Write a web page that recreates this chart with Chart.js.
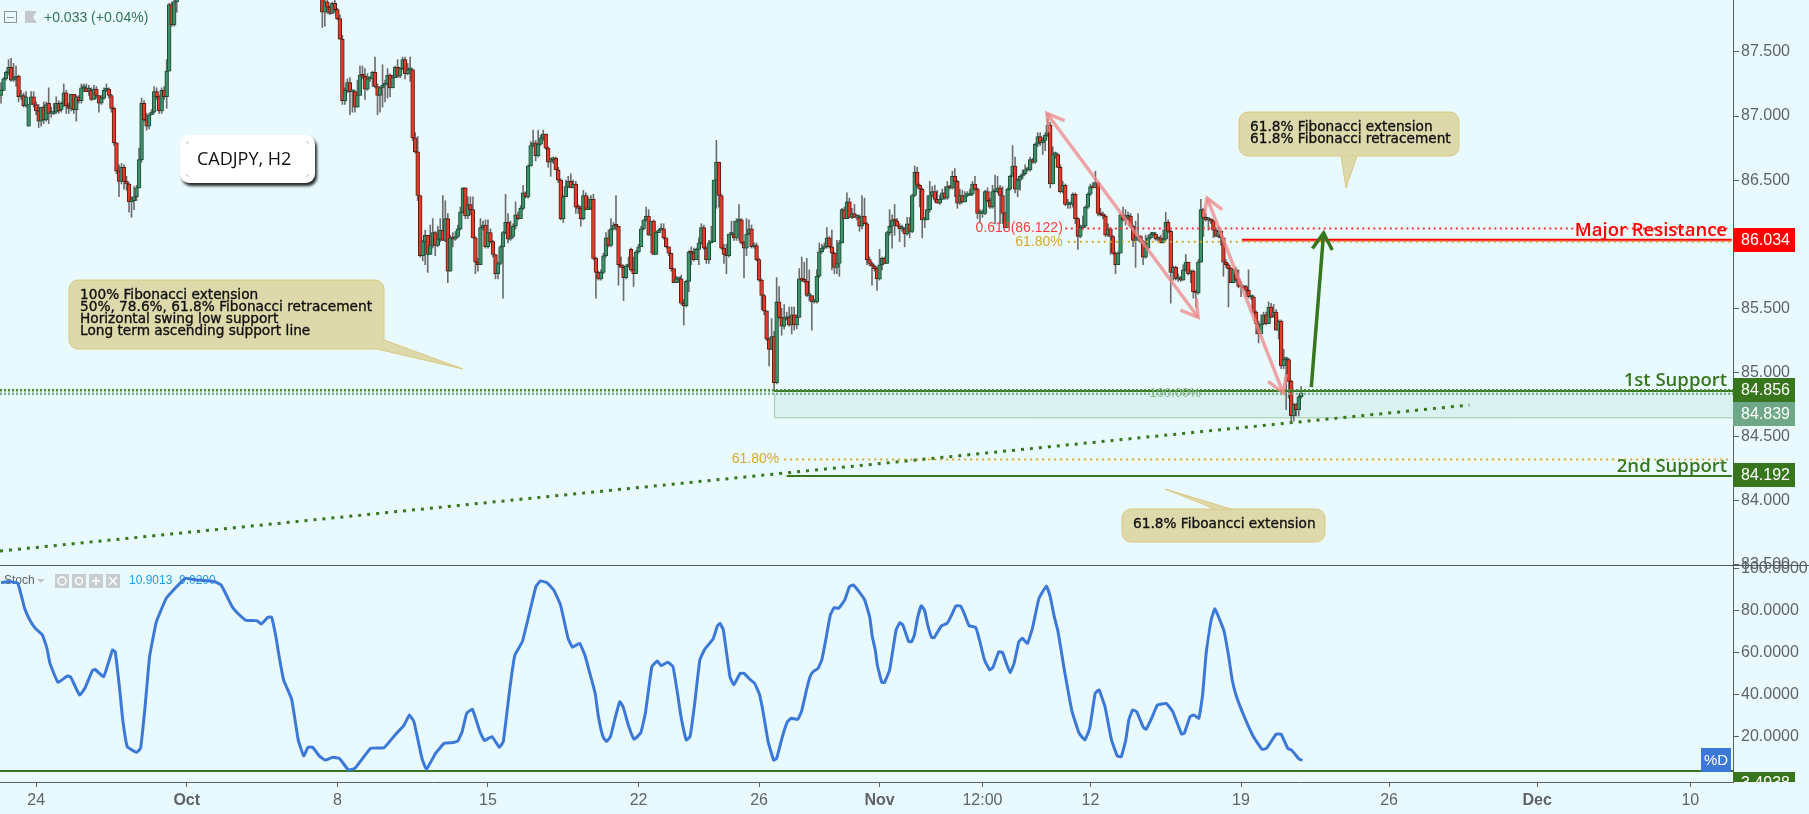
<!DOCTYPE html>
<html>
<head>
<meta charset="utf-8">
<title>CADJPY, H2</title>
<script src="https://cdn.jsdelivr.net/npm/chart.js@4/dist/chart.umd.js"></script>
<style>
	html, body { margin: 0; padding: 0; background: #e9faff; overflow: hidden; }
	#page { position: relative; width: 1809px; height: 814px; }
	#mainChart { position: absolute; left: 0; top: 0; }
	#stochChart { position: absolute; left: 0; top: 545px; }
	#paneLine { position: absolute; left: 0; top: 565px; width: 1809px; height: 1px; background: #50565a; }
</style>
</head>
<body>
<div id="page">
	<canvas id="mainChart" width="1809" height="590"></canvas>
	<canvas id="stochChart" width="1809" height="269"></canvas>
	<div id="paneLine"></div>
</div>
<script>
// candles, one per H2 bar. The nulls are the bars that run off the top of the picture
const opens = [
	87.16,87.20,87.29,87.34,87.38,87.28,87.29,87.31,87.15,87.16,
	87.08,86.92,87.09,87.15,87.09,87.04,86.96,87.07,86.97,87.10,
	87.02,87.02,87.03,87.10,87.05,87.10,87.18,87.08,87.06,87.17,
	87.05,87.15,87.12,87.22,87.22,87.20,87.20,87.13,87.21,87.16,
	87.10,87.14,87.20,87.21,87.16,87.06,86.79,86.57,86.49,86.60,
	86.49,86.47,86.33,86.34,86.37,86.44,86.66,87.10,86.97,86.92,
	87.01,87.03,87.19,87.15,87.04,87.20,87.15,87.35,87.87,87.71,
	87.89,null,null,null,null,null,null,null,null,null,
	null,null,null,null,null,null,null,null,null,null,
	null,null,null,null,null,null,null,null,null,null,
	null,null,null,null,null,null,null,null,null,null,
	null,null,null,null,null,null,null,null,null,null,
	null,null,null,null,null,null,null,null,87.91,87.81,
	87.89,87.85,87.80,87.88,87.83,87.76,87.60,87.12,87.20,87.26,
	87.19,87.19,87.07,87.16,87.32,87.31,87.21,87.29,87.29,87.34,
	87.23,87.16,87.22,87.24,87.25,87.32,87.22,87.30,87.38,87.31,
	87.37,87.44,87.33,87.36,87.36,86.83,86.72,86.38,85.91,86.02,
	86.07,85.92,85.99,86.09,85.99,86.04,86.11,86.03,86.20,85.79,
	86.05,86.04,86.06,86.12,86.25,86.44,86.22,86.31,86.27,86.05,
	85.86,85.84,86.13,86.15,85.98,86.09,86.02,85.92,85.77,85.85,
	85.98,86.09,86.17,86.04,86.06,86.14,86.23,86.20,86.28,86.40,
	86.37,86.61,86.77,86.79,86.69,86.78,86.83,86.86,86.75,86.64,
	86.66,86.67,86.58,86.50,86.20,86.37,86.45,86.49,86.44,86.47,
	86.29,86.28,86.20,86.38,86.27,86.28,86.35,85.89,85.78,85.73,
	85.78,85.91,86.05,85.99,86.12,86.15,86.14,85.84,85.82,85.74,
	85.83,85.96,85.80,85.77,85.94,85.98,86.12,86.19,86.22,86.07,
	86.18,85.92,86.09,86.11,86.12,86.05,85.98,85.93,85.81,85.70,
	85.73,85.73,85.54,85.52,85.71,85.94,85.93,85.88,85.96,86.01,
	86.13,85.97,85.88,86.01,86.02,86.50,86.64,86.38,85.97,85.92,
	85.91,86.08,86.08,86.05,86.18,86.19,86.01,85.97,86.08,86.12,
	85.98,85.99,85.88,85.72,85.60,85.48,85.26,85.18,85.28,84.92,
	85.55,85.43,85.36,85.42,85.43,85.37,85.45,85.37,85.43,85.73,
	85.72,85.71,85.60,85.60,85.55,85.55,85.75,85.94,85.97,85.98,
	86.05,85.98,85.93,85.82,85.85,86.01,86.27,86.20,86.33,86.21,
	86.24,86.21,86.21,86.14,86.22,86.16,85.88,85.85,85.83,85.81,
	85.73,85.84,85.89,85.85,86.09,86.14,86.19,86.18,86.14,86.12,
	86.12,86.08,86.16,86.10,86.38,86.56,86.46,86.43,86.19,86.19,
	86.27,86.38,86.41,86.35,86.32,86.35,86.40,86.36,86.45,86.44,
	86.53,86.49,86.32,86.38,86.33,86.38,86.38,86.39,86.47,86.43,
	86.24,86.24,86.24,86.41,86.34,86.29,86.41,86.41,86.44,86.38,
	86.24,86.13,86.43,86.53,86.61,86.43,86.50,86.53,86.55,86.58,
	86.58,86.66,86.64,86.78,86.84,86.79,86.81,86.85,86.93,86.47,
	86.70,86.70,86.60,86.41,86.46,86.31,86.31,86.31,86.39,86.20,
	86.06,86.13,86.14,86.29,86.39,86.45,86.44,86.48,86.24,86.23,
	86.22,86.07,86.12,86.06,85.93,85.84,85.93,86.23,86.19,86.21,
	86.22,86.14,86.03,86.05,86.06,86.02,85.90,85.97,86.05,86.08,
	86.08,86.04,86.05,86.01,86.04,86.17,86.10,85.78,85.82,85.73,
	85.73,85.72,85.80,85.86,85.77,85.79,85.63,85.62,85.86,86.27,
	86.21,86.19,86.19,86.18,86.11,86.06,86.10,86.05,85.86,85.84,
	85.81,85.70,85.80,85.73,85.67,85.67,85.67,85.64,85.59,85.59,
	85.47,85.38,85.30,85.38,85.45,85.38,85.51,85.44,85.47,85.33,
	85.40,85.05,85.10,85.10,84.93,84.66,84.75,84.71,84.81
];
const closes = [
	87.20,87.29,87.34,87.38,87.28,87.29,87.31,87.15,87.16,87.08,
	87.15,87.09,87.15,87.09,87.04,86.96,87.07,86.97,87.09,87.02,
	87.02,87.03,87.10,87.04,87.10,87.18,87.08,87.06,87.17,87.05,
	87.15,87.12,87.22,87.22,87.19,87.20,87.13,87.21,87.16,87.10,
	87.14,87.20,87.21,87.16,87.06,86.79,86.57,86.49,86.60,86.49,
	86.47,86.33,86.34,86.37,86.44,86.66,87.10,86.97,86.92,87.01,
	87.03,87.19,87.15,87.04,87.20,87.15,87.35,87.87,87.71,87.89,
	87.92,null,null,null,null,null,null,null,null,null,
	null,null,null,null,null,null,null,null,null,null,
	null,null,null,null,null,null,null,null,null,null,
	null,null,null,null,null,null,null,null,null,null,
	null,null,null,null,null,null,null,null,null,null,
	null,null,null,null,null,null,null,null,87.81,87.89,
	87.85,87.80,87.88,87.83,87.76,87.60,87.12,87.20,87.26,87.19,
	87.19,87.07,87.16,87.32,87.31,87.21,87.29,87.29,87.34,87.23,
	87.16,87.22,87.24,87.25,87.32,87.22,87.30,87.38,87.31,87.37,
	87.44,87.33,87.36,87.36,86.83,86.72,86.38,85.91,86.02,86.07,
	85.92,85.99,86.09,85.99,86.04,86.11,86.03,86.20,85.79,86.05,
	86.04,86.06,86.12,86.25,86.44,86.22,86.31,86.27,86.05,85.86,
	85.84,86.13,86.15,85.98,86.09,86.02,85.92,85.77,85.85,85.98,
	86.09,86.17,86.04,86.06,86.14,86.23,86.20,86.28,86.40,86.37,
	86.61,86.77,86.79,86.69,86.78,86.83,86.86,86.75,86.64,86.66,
	86.67,86.58,86.50,86.20,86.37,86.45,86.49,86.44,86.47,86.29,
	86.28,86.20,86.38,86.27,86.28,86.35,85.89,85.78,85.73,85.78,
	85.91,86.05,85.99,86.12,86.15,86.14,85.84,85.82,85.74,85.83,
	85.83,85.80,85.77,85.94,85.98,86.12,86.19,86.22,86.07,86.18,
	85.92,86.09,86.11,86.12,86.05,85.98,85.93,85.81,85.70,85.73,
	85.73,85.54,85.52,85.71,85.94,85.93,85.88,85.96,86.01,86.13,
	85.97,85.88,86.01,86.02,86.50,86.64,86.38,85.97,85.92,85.91,
	86.08,86.08,86.05,86.18,86.19,86.01,85.97,86.08,86.12,85.98,
	85.99,85.88,85.72,85.60,85.48,85.26,85.18,85.28,84.92,85.55,
	85.43,85.36,85.42,85.43,85.37,85.45,85.37,85.43,85.73,85.72,
	85.71,85.60,85.60,85.55,85.55,85.75,85.94,85.97,85.98,86.05,
	85.98,85.93,85.82,85.85,86.01,86.27,86.20,86.33,86.21,86.24,
	86.21,86.21,86.14,86.22,86.16,85.88,85.85,85.83,85.81,85.73,
	85.84,85.89,85.85,86.09,86.14,86.19,86.18,86.14,86.12,86.12,
	86.08,86.16,86.10,86.38,86.56,86.46,86.43,86.19,86.19,86.27,
	86.38,86.41,86.35,86.32,86.35,86.40,86.36,86.45,86.44,86.53,
	86.49,86.32,86.38,86.33,86.38,86.38,86.39,86.47,86.43,86.24,
	86.24,86.24,86.41,86.34,86.29,86.41,86.41,86.44,86.38,86.24,
	86.13,86.43,86.53,86.61,86.43,86.50,86.53,86.55,86.58,86.58,
	86.66,86.64,86.78,86.84,86.79,86.81,86.85,86.93,86.47,86.70,
	86.70,86.60,86.41,86.46,86.31,86.31,86.31,86.39,86.20,86.06,
	86.13,86.14,86.29,86.39,86.45,86.44,86.48,86.24,86.23,86.22,
	86.07,86.12,86.06,85.93,85.84,85.93,86.23,86.19,86.21,86.22,
	86.14,86.03,86.05,86.05,86.02,85.90,85.97,86.05,86.08,86.08,
	86.04,86.05,86.01,86.04,86.17,86.10,85.78,85.82,85.73,85.73,
	85.72,85.80,85.86,85.77,85.79,85.63,85.62,85.86,86.27,86.21,
	86.19,86.19,86.18,86.11,86.06,86.10,86.05,85.86,85.84,85.81,
	85.70,85.80,85.72,85.67,85.67,85.66,85.64,85.59,85.59,85.47,
	85.38,85.30,85.38,85.45,85.38,85.51,85.43,85.47,85.33,85.40,
	85.05,85.10,85.10,84.93,84.66,84.75,84.71,84.81,84.84
];
const highs = [
	87.26,87.30,87.35,87.44,87.45,87.41,87.39,87.32,87.20,87.18,
	87.19,87.09,87.19,87.19,87.11,87.09,87.07,87.11,87.11,87.22,
	87.07,87.10,87.15,87.12,87.11,87.25,87.20,87.10,87.17,87.17,
	87.16,87.16,87.25,87.25,87.25,87.24,87.22,87.24,87.23,87.16,
	87.16,87.22,87.25,87.22,87.17,87.07,86.79,86.62,86.63,86.62,
	86.53,86.48,86.37,86.45,86.46,86.75,87.14,87.12,87.02,87.02,
	87.05,87.23,87.22,87.16,87.22,87.23,87.44,87.88,87.89,87.93,
	87.98,null,null,null,null,null,null,null,null,null,
	null,null,null,null,null,null,null,null,null,null,
	null,null,null,null,null,null,null,null,null,null,
	null,null,null,null,null,null,null,null,null,null,
	null,null,null,null,null,null,null,null,null,null,
	null,null,null,null,null,null,null,null,87.93,87.92,
	87.92,87.86,87.89,87.92,87.84,87.79,87.63,87.22,87.29,87.30,
	87.20,87.20,87.28,87.39,87.39,87.37,87.33,87.31,87.35,87.46,
	87.25,87.23,87.40,87.28,87.37,87.33,87.32,87.39,87.44,87.38,
	87.46,87.46,87.41,87.46,87.37,86.87,86.84,86.38,86.03,86.11,
	86.07,86.15,86.20,86.10,86.14,86.20,86.38,86.34,86.24,86.07,
	86.09,86.10,86.15,86.29,86.44,86.44,86.37,86.37,86.37,86.06,
	85.89,86.20,86.18,86.19,86.19,86.12,86.03,85.92,85.86,85.99,
	86.10,86.39,86.24,86.18,86.16,86.33,86.25,86.30,86.46,86.41,
	86.62,86.80,86.89,86.81,86.89,86.85,86.89,86.86,86.76,86.67,
	86.68,86.68,86.60,86.51,86.38,86.50,86.53,86.55,86.50,86.49,
	86.31,86.30,86.42,86.40,86.37,86.38,86.39,85.90,85.79,85.80,
	85.93,86.09,86.11,86.20,86.17,86.38,86.14,85.90,85.84,85.84,
	85.90,85.97,85.90,85.95,86.00,86.14,86.19,86.29,86.27,86.18,
	86.19,86.10,86.12,86.16,86.16,86.05,85.98,85.93,85.81,85.75,
	85.74,85.76,85.57,85.72,85.95,85.98,85.97,85.97,86.05,86.16,
	86.15,85.98,86.03,86.14,86.50,86.81,86.64,86.39,86.00,86.00,
	86.08,86.18,86.18,86.20,86.31,86.20,86.02,86.20,86.19,86.15,
	86.01,86.01,85.89,85.73,85.61,85.48,85.27,85.42,85.32,85.74,
	85.67,85.50,85.53,85.47,85.51,85.51,85.51,85.45,85.81,85.90,
	85.86,85.89,85.80,85.60,85.57,85.80,86.01,86.00,86.01,86.13,
	86.06,86.11,85.94,86.03,86.03,86.28,86.29,86.40,86.36,86.28,
	86.31,86.23,86.23,86.38,86.36,86.17,85.90,85.86,85.84,85.82,
	85.96,85.90,85.90,86.10,86.27,86.23,86.31,86.20,86.16,86.15,
	86.13,86.21,86.21,86.39,86.61,86.60,86.47,86.44,86.21,86.38,
	86.49,86.45,86.46,86.42,86.38,86.43,86.45,86.49,86.46,86.57,
	86.59,86.50,86.43,86.42,86.41,86.41,86.43,86.49,86.53,86.44,
	86.27,86.27,86.42,86.44,86.36,86.46,86.54,86.53,86.46,86.45,
	86.25,86.44,86.54,86.77,86.68,86.51,86.54,86.58,86.62,86.60,
	86.68,86.67,86.79,86.87,86.87,86.83,86.87,86.98,86.95,86.76,
	86.72,86.71,86.62,86.49,86.47,86.35,86.33,86.40,86.40,86.21,
	86.15,86.22,86.30,86.40,86.47,86.48,86.57,86.48,86.28,86.25,
	86.23,86.16,86.13,86.07,85.94,85.94,86.24,86.29,86.27,86.25,
	86.24,86.15,86.18,86.24,86.07,86.03,86.07,86.07,86.09,86.09,
	86.09,86.06,86.07,86.11,86.25,86.19,86.11,85.83,85.83,85.77,
	85.75,85.84,85.92,85.86,85.80,85.80,85.64,85.88,86.35,86.28,
	86.24,86.21,86.20,86.19,86.13,86.14,86.11,86.05,85.88,85.85,
	85.82,85.81,85.82,85.80,85.71,85.68,85.68,85.80,85.60,85.60,
	85.48,85.40,85.45,85.47,85.47,85.55,85.54,85.53,85.49,85.41,
	85.41,85.18,85.12,85.11,84.94,84.76,84.76,84.82,84.89
];
const lows = [
	87.10,87.20,87.28,87.32,87.27,87.27,87.23,87.11,87.13,87.07,
	87.07,86.92,87.09,87.07,87.01,86.91,86.92,86.94,86.96,86.94,
	86.99,87.01,87.02,87.02,87.03,87.07,87.02,87.02,87.04,87.02,
	86.96,87.10,87.10,87.19,87.19,87.16,87.12,87.13,87.14,87.03,
	87.09,87.13,87.19,87.14,87.03,86.77,86.55,86.37,86.47,86.43,
	86.42,86.25,86.21,86.27,86.34,86.44,86.64,86.96,86.89,86.90,
	87.01,87.02,87.13,87.02,87.02,87.13,87.06,87.35,87.70,87.70,
	87.81,null,null,null,null,null,null,null,null,null,
	null,null,null,null,null,null,null,null,null,null,
	null,null,null,null,null,null,null,null,null,null,
	null,null,null,null,null,null,null,null,null,null,
	null,null,null,null,null,null,null,null,null,null,
	null,null,null,null,null,null,null,null,87.69,87.70,
	87.80,87.79,87.80,87.81,87.75,87.60,87.09,87.09,87.18,87.01,
	87.03,87.03,87.07,87.16,87.29,87.13,87.20,87.27,87.23,87.22,
	87.01,87.03,87.07,87.11,87.14,87.15,87.22,87.30,87.30,87.30,
	87.36,87.29,87.32,87.27,86.81,86.71,86.34,85.90,85.87,85.84,
	85.78,85.92,85.97,85.91,85.98,86.02,86.03,86.02,85.70,85.79,
	85.98,86.03,86.05,86.11,86.24,86.20,86.20,86.23,86.05,85.77,
	85.79,85.84,86.11,85.97,85.97,86.01,85.90,85.73,85.73,85.84,
	85.58,86.08,86.01,86.03,86.05,86.12,86.19,86.20,86.27,86.36,
	86.36,86.61,86.76,86.65,86.68,86.77,86.81,86.74,86.60,86.53,
	86.63,86.58,86.48,86.19,86.17,86.37,86.44,86.44,86.44,86.24,
	86.24,86.14,86.19,86.27,86.27,86.27,85.88,85.58,85.72,85.72,
	85.77,85.90,85.98,85.98,86.11,86.11,85.68,85.82,85.56,85.73,
	85.82,85.79,85.67,85.77,85.93,85.98,86.11,86.18,86.07,85.93,
	85.92,85.92,86.09,86.11,86.04,85.97,85.91,85.79,85.70,85.70,
	85.70,85.53,85.37,85.51,85.63,85.84,85.87,85.88,85.84,86.00,
	85.96,85.85,85.85,86.01,86.02,86.28,86.29,85.96,85.85,85.77,
	85.90,86.07,86.03,86.03,86.03,86.00,85.74,85.91,86.07,85.97,
	85.97,85.87,85.71,85.49,85.45,85.25,85.05,85.18,84.86,84.91,
	85.42,85.29,85.34,85.41,85.36,85.30,85.33,85.34,85.43,85.71,
	85.70,85.59,85.56,85.33,85.54,85.54,85.74,85.93,85.96,85.97,
	85.97,85.80,85.77,85.77,85.75,86.01,86.20,86.20,86.21,86.20,
	86.21,86.19,86.10,86.12,86.16,85.84,85.83,85.68,85.79,85.64,
	85.72,85.80,85.85,85.85,86.07,85.97,86.07,86.14,86.02,86.10,
	85.98,86.07,86.05,86.09,86.37,86.44,86.29,86.05,86.13,86.19,
	86.25,86.37,86.33,86.32,86.31,86.35,86.35,86.35,86.43,86.43,
	86.37,86.28,86.31,86.32,86.33,86.37,86.38,86.38,86.42,86.20,
	86.17,86.21,86.23,86.33,86.28,86.28,86.16,86.40,86.16,86.16,
	86.13,86.13,86.42,86.53,86.40,86.37,86.42,86.51,86.54,86.57,
	86.57,86.63,86.63,86.76,86.77,86.70,86.73,86.84,86.44,86.47,
	86.67,86.60,86.40,86.40,86.30,86.28,86.28,86.29,86.16,85.96,
	86.05,86.12,86.13,86.28,86.38,86.44,86.44,86.22,86.22,86.20,
	86.06,86.06,85.92,85.92,85.77,85.84,85.93,86.18,86.15,86.19,
	86.13,85.98,85.82,86.03,86.01,85.84,85.89,85.96,86.04,86.06,
	86.03,86.02,86.01,86.01,86.03,86.09,85.54,85.72,85.72,85.71,
	85.71,85.72,85.79,85.76,85.70,85.58,85.51,85.61,85.86,86.06,
	86.18,86.11,86.16,86.05,86.06,86.05,85.99,85.75,85.82,85.51,
	85.70,85.70,85.71,85.66,85.59,85.64,85.59,85.58,85.57,85.46,
	85.30,85.23,85.30,85.37,85.37,85.38,85.43,85.43,85.33,85.26,
	85.03,85.03,84.71,84.80,84.62,84.62,84.66,84.66,84.80
];

// %D line of the stochastic, read at its turning points
const stochBars = [
	0,3.2,6.7,9.4,11.7,13.8,16.5,18.3,19.5,22.7,26.3,27.7,31.3,33.4,36.4,37.5,40.9,44.4,45.5,47.3,
	48.5,50.3,53.9,55.6,57.4,59.2,61.9,65.8,68.1,73.4,77.9,85,87.7,92.1,93.9,97.4,101.9,103.7,106.3,107.8,
	109.5,110.8,112.6,115.8,118.4,120.6,122.3,124.1,126.8,129.1,132.1,134.8,138.4,141,147.3,152.6,157,160.6,162.7,164.5,
	167.7,169.5,173.1,176.6,179.6,182,183.7,185.5,187.8,190.8,192.6,195.6,198.5,200.1,202.8,204.7,207.7,211.3,213.1,214.9,
	217.5,220.2,222.9,225.9,227.7,230.5,232.6,234.4,236.7,238,239.8,241.2,242.8,244.8,246.5,247.8,249.9,252.2,254.9,256.7,
	259.3,261.5,262.9,265.6,267.7,269.5,270.9,273,274.5,276.2,278.4,280.3,282.3,283.8,285.4,286.4,287.7,288.9,290.4,291.9,
	294.5,296,298.3,300.2,302.1,303.7,305.6,307.8,309,311.3,313.3,314.8,317.4,318.9,320.9,322.3,323.5,325.5,327,328.8,
	330.4,331.9,333.7,336.1,338,339.5,341.8,344.1,346.1,347.1,348.3,349.1,350.9,352,354,356.6,358.1,359.3,361.6,362.8,
	363.9,365.1,366.6,367.9,369.2,370.8,371.8,374.6,376.9,378.4,380.4,382.2,383.7,385.7,388.3,389.8,391.8,393.9,395.2,397.5,
	399,400.5,402,403.6,405.5,406.9,408.9,410.9,413.5,416.5,418,419.6,421.1,423.4,426.7,429.5,431.8,433.7,435.9,437.4,
	439.8,442.4,444.7,446.3,448.1,449.3,450.8,452.4,455.1,456.2,458.1,460.7,464.2,466.8,470.3,471.4,473.7,475.2,477.2,478.7,
	480.1,482.1,483.6,487.1,489,490.5,492,495,498.9,502.4,504.2,508,510,512.6,514.1,517.2,518.5
];
const stochValues = [
	93.5,94,93.2,81.3,75.2,71.6,68.6,62.2,55.1,46,49,48.7,40,43.2,51.6,52.2,48.7,61.4,60.6,42.4,
	28.1,15.4,12.7,14.6,34.5,58.3,74.9,86,89.2,95.5,94.8,94,92.4,82,79.4,75.7,75.4,73.8,77,77,
	67.8,58.3,47.1,37.9,18.6,11,15.1,15.1,11,9,10.3,9.8,4.3,5.1,14.6,14.9,21,25.7,30.5,27.3,
	9.8,4.6,12.2,17,17.3,18.1,22.5,31.3,33.2,22.5,18.3,20.2,15.1,17.8,44,59,65.4,82.9,91.6,94.3,
	93.5,90,82.9,67,62.7,64.6,59,51.1,40.8,29.7,20.2,17.8,20.2,29.7,36.8,34.5,25.7,18.9,22.1,31.3,
	53.5,56.2,54,55.6,53.5,40.8,29.7,18.6,20.2,34.5,56.7,61.7,64.6,67,72.9,74.1,71.3,61.4,48.7,44.8,
	50.3,50.3,47.5,45.6,40.5,31.3,17.8,9,9.8,20.2,27.3,28.9,28.4,32.1,42.4,48.7,51.1,52.7,56.7,67.8,
	78.1,81.6,81.3,85.2,91.6,92.4,89.2,85.2,77,67.8,61.4,54.3,46,46,51.9,71,74.4,73.3,65.4,65.4,
	68.6,76.5,82.5,80.5,73.3,67.3,67.3,72.9,74.1,77.3,82.4,82.4,78.9,73,72.2,66.2,56.7,51.9,53.2,60.6,
	60.2,55.1,50.6,55.1,65.4,67,64.6,71.7,86,91.9,86.8,77.3,70.2,53.5,32.1,21.8,18.6,24.1,40.8,42.4,
	34.5,18.6,11,10.6,18.6,28.1,32.9,32.1,24.6,23.7,28.1,35.2,36,32.1,21.4,21.8,29.7,30.5,28.9,40,
	59.8,75.7,81,71,59,47.1,40,30.5,20.2,14.1,14.6,21.4,21.3,14.6,13.8,9.4,8.9
];
const stochLevel = 3.8;

// axes
const priceTicks = [84, 84.5, 85, 85.5, 86, 86.5, 87, 87.5, 83.5];
const stochTicks = [20, 40, 60, 80, 100];
const timeTickBars = [14, 74, 134, 194, 254, 302, 350, 391, 434, 494, 553, 612, 673];
const timeTickLabels = ["24", "Oct", "8", "15", "22", "26", "Nov", "12:00", "12", "19", "26", "Dec", "10"];
const monthLabels = ["Oct", "Nov", "Dec"];
const xMin = -0.4, xMax = 690;

// drawn levels and tools
const resistance = 86.034, fibRed = 86.122, fibGold = 86.02;
const support1 = 84.856, support1Low = 84.839, zoneBottom = 84.65;
const support2 = 84.192, support2Fib = 84.32;
const trendBars = [-0.4, 585], trendPrices = [83.607, 84.746];
const zoneStartBar = 308;
const pinkArrows = [[416.7, 87.02, 476.9, 85.43], [480.5, 86.36, 510.8, 84.84]];
const greenArrow = [522, 84.886, 526.9, 86.087];

const calloutA = ["100% Fibonacci extension", "50%, 78.6%, 61.8% Fibonacci retracement", "Horizontal swing low support", "Long term ascending support line"];
const calloutB = ["61.8% Fibonacci extension", "61.8% Fibonacci retracement"];
const calloutC = ["61.8% Fiboancci extension"];

const GREEN = "#38761d", RED = "#ff0000", GOLD = "#d6a92a", AXIS = "#5c6064", TEXT = "#5f6368";

function levelLine(x1, x2, y, color, width, dash) {
	return {
		type: "line",
		data: [{ x: x1, y: y }, { x: x2, y: y }],
		borderColor: color,
		borderWidth: width,
		borderDash: dash || [],
		pointRadius: 0,
		order: 2,
	};
}

// the axis would otherwise push the plot in by half a label
function trimAxis(scale) {
	scale.paddingTop = 0;
	scale.paddingBottom = 0;
	scale.paddingLeft = 0;
	scale.paddingRight = 0;
}

function drawArrow(ctx, x1, y1, x2, y2, color, width, bothEnds) {
	function head(tx, ty, fx, fy) {
		const a = Math.atan2(fy - ty, fx - tx);
		ctx.beginPath();
		ctx.moveTo(tx + 19 * Math.cos(a - 0.55), ty + 19 * Math.sin(a - 0.55));
		ctx.lineTo(tx, ty);
		ctx.lineTo(tx + 19 * Math.cos(a + 0.55), ty + 19 * Math.sin(a + 0.55));
		ctx.stroke();
	}
	ctx.save();
	ctx.strokeStyle = color;
	ctx.lineWidth = width;
	ctx.beginPath();
	ctx.moveTo(x1, y1);
	ctx.lineTo(x2, y2);
	ctx.stroke();
	head(x2, y2, x1, y1);
	if (bothEnds) head(x1, y1, x2, y2);
	ctx.restore();
}

// box with a pointed tail; the tail is three points going through the tip
function drawCallout(ctx, box, tail, lines, textX, firstY, lineGap) {
	ctx.save();
	ctx.fillStyle = "#ddd9ab";
	ctx.strokeStyle = "#dcc67e";
	ctx.lineWidth = 1;
	ctx.beginPath();
	ctx.roundRect(box[0], box[1], box[2] - box[0], box[3] - box[1], 9);
	ctx.fill();
	ctx.stroke();
	ctx.beginPath();
	ctx.moveTo(tail[0], tail[1]);
	ctx.lineTo(tail[2], tail[3]);
	ctx.lineTo(tail[4], tail[5]);
	ctx.closePath();
	ctx.fill();
	ctx.beginPath();
	ctx.moveTo(tail[0], tail[1]);
	ctx.lineTo(tail[2], tail[3]);
	ctx.lineTo(tail[4], tail[5]);
	ctx.stroke();
	ctx.fillStyle = "#111";
	ctx.strokeStyle = "#111";
	ctx.lineWidth = 0.35;
	ctx.font = '13.7px "DejaVu Sans"';
	ctx.textBaseline = "middle";
	ctx.textAlign = "left";
	lines.forEach((line, i) => {
		ctx.fillText(line, textX, firstY + i * lineGap);
		ctx.strokeText(line, textX, firstY + i * lineGap);
	});
	ctx.restore();
}

function badge(ctx, y1, y2, color, label) {
	ctx.fillStyle = color;
	ctx.fillRect(1733, y1, 62, y2 - y1);
	ctx.fillStyle = "#fff";
	ctx.font = '16px "Liberation Sans"';
	ctx.textAlign = "left";
	ctx.textBaseline = "middle";
	ctx.fillText(label, 1741, (y1 + y2) / 2 + 1);
}

const zonePlugin = {
	id: "zone",
	beforeDatasetsDraw(chart) {
		const ctx = chart.ctx, x = chart.scales.x, y = chart.scales.y;
		const left = x.getPixelForValue(zoneStartBar), right = x.getPixelForValue(xMax);
		const top = y.getPixelForValue(support1Low), bottom = y.getPixelForValue(zoneBottom);
		ctx.save();
		ctx.fillStyle = "rgba(60,150,90,0.09)";
		ctx.fillRect(left, top, right - left, bottom - top);
		ctx.strokeStyle = "#9ccb9c";
		ctx.lineWidth = 1;
		ctx.beginPath();
		ctx.moveTo(left + 0.5, top);
		ctx.lineTo(left + 0.5, bottom + 0.5);
		ctx.lineTo(right, bottom + 0.5);
		ctx.stroke();
		ctx.restore();
	},
};

const overlayPlugin = {
	id: "overlay",
	afterDatasetsDraw(chart) {
		const ctx = chart.ctx, x = chart.scales.x, y = chart.scales.y;
		const px = (v) => x.getPixelForValue(v), py = (v) => y.getPixelForValue(v);

		pinkArrows.forEach((a) => drawArrow(ctx, px(a[0]), py(a[1]), px(a[2]), py(a[3]), "rgba(238,135,135,0.75)", 3.5, true));
		drawArrow(ctx, px(greenArrow[0]), py(greenArrow[1]), px(greenArrow[2]), py(greenArrow[3]), GREEN, 3.5, false);

		// small texts sitting on the levels
		ctx.save();
		ctx.textBaseline = "middle";
		ctx.textAlign = "right";
		ctx.font = '14px "Liberation Sans"';
		ctx.fillStyle = "#ff3b3b";
		ctx.fillText("0.618(86.122)", px(423), py(fibRed));
		ctx.fillStyle = GOLD;
		ctx.fillText("61.80%", px(423), py(fibGold));
		ctx.fillText("61.80%", px(310), py(support2Fib));
		ctx.fillStyle = "#86b98c";
		ctx.font = '13px "Liberation Sans"';
		ctx.fillText("100.00%", px(478), py(84.835));

		ctx.font = '600 18.5px "Open Sans"';
		ctx.fillStyle = RED;
		ctx.fillText("Major Resistance", 1727, 231);
		ctx.fillStyle = GREEN;
		ctx.fillText("1st Support", 1727, 381);
		ctx.fillText("2nd Support", 1727, 467);
		ctx.restore();

		// symbol box
		ctx.save();
		ctx.shadowColor = "rgba(0,0,0,0.85)";
		ctx.shadowOffsetX = 2;
		ctx.shadowOffsetY = 3;
		ctx.shadowBlur = 3;
		ctx.fillStyle = "#fff";
		ctx.beginPath();
		ctx.roundRect(180, 135, 135, 48, 9);
		ctx.fill();
		ctx.restore();
		ctx.strokeStyle = "#c4c8cc";
		ctx.lineWidth = 1;
		[[187, 142, 1, 1], [308, 142, -1, 1], [187, 176, 1, -1], [308, 176, -1, -1]].forEach((c) => {
			ctx.beginPath();
			ctx.moveTo(c[0] + 2 * c[2], c[1]);
			ctx.lineTo(c[0], c[1]);
			ctx.lineTo(c[0], c[1] + 2 * c[3]);
			ctx.stroke();
		});
		ctx.fillStyle = "#111";
		ctx.font = '18px "Open Sans"';
		ctx.textAlign = "left";
		ctx.textBaseline = "middle";
		ctx.fillText("CADJPY, H2", 197, 160);

		drawCallout(ctx, [69, 280, 384, 349], [384, 340, 463, 369, 377, 349], calloutA, 80, 295, 12.2);
		drawCallout(ctx, [1239, 112, 1459, 156], [1341, 156, 1346, 188, 1357, 156], calloutB, 1250, 127, 12);
		drawCallout(ctx, [1122, 509, 1325, 542], [1215, 509, 1165, 489, 1231, 509], calloutC, 1133, 524, 12);

		// top left status line
		ctx.strokeStyle = "#8d9296";
		ctx.lineWidth = 1;
		ctx.strokeRect(4.5, 11.5, 12, 11);
		ctx.beginPath();
		ctx.moveTo(7, 17.5);
		ctx.lineTo(14, 17.5);
		ctx.stroke();
		ctx.fillStyle = "#c6c8d0";
		ctx.beginPath();
		ctx.moveTo(25, 11);
		ctx.lineTo(37, 11);
		ctx.lineTo(33, 17);
		ctx.lineTo(37, 23);
		ctx.lineTo(25, 23);
		ctx.closePath();
		ctx.fill();
		ctx.fillStyle = "#2f7355";
		ctx.font = '14px "Liberation Sans"';
		ctx.fillText("+0.033 (+0.04%)", 44, 18);

		badge(ctx, 228, 252, RED, "86.034");
		badge(ctx, 378, 402, GREEN, "84.856");
		badge(ctx, 402, 426, "#6fa888", "84.839");
		badge(ctx, 463, 487, GREEN, "84.192");
	},
};

const wicks = [], bodies = [], bodyFill = [], bodyEdge = [];
opens.forEach((o, i) => {
	if (o === null) return;
	wicks.push({ x: i, y: [lows[i], highs[i]] });
	bodies.push({ x: i, y: [o, closes[i]] });
	const up = closes[i] >= o;
	bodyFill.push(up ? "#3f8f6a" : "#e53b2c");
	bodyEdge.push(up ? "#1d4f37" : "#5c1a12");
});

new Chart(document.getElementById("mainChart"), {
	type: "bar",
	data: {
		datasets: [
			{ data: wicks, backgroundColor: "#6e6e6e", barThickness: 1, grouped: false, order: 5 },
			{
				data: bodies,
				backgroundColor: bodyFill,
				borderColor: bodyEdge,
				borderWidth: 1,
				borderSkipped: false,
				barThickness: 3.8,
				minBarLength: 2,
				grouped: false,
				order: 4,
			},
			levelLine(xMin, xMax, support1 + 0.006, "#4c8a3a", 2.5, [2, 2]),
			levelLine(xMin, xMax, support1Low - 0.006, "#7fb38f", 2.5, [2, 2]),
			levelLine(zoneStartBar, xMax, support1, GREEN, 2),
			levelLine(424, 688, fibRed, "#ff3030", 2, [2, 3.5]),
			levelLine(425, xMax, fibGold, GOLD, 2, [2, 4]),
			levelLine(494.4, 689.5, resistance, RED, 2),
			levelLine(494.4, 689.5, resistance - 0.012, "#f29a9a", 1),
			levelLine(312, 688, support2Fib, GOLD, 2, [2, 4]),
			levelLine(313, 689.5, support2, GREEN, 2),
			{
				type: "line",
				data: [{ x: trendBars[0], y: trendPrices[0] }, { x: trendBars[1], y: trendPrices[1] }],
				borderColor: GREEN,
				borderWidth: 3,
				borderDash: [3, 6],
				pointRadius: 0,
				order: 1,
			},
		],
	},
	options: {
		responsive: false,
		animation: false,
		events: [],
		layout: { padding: { top: 0, bottom: 25, left: 0, right: 0 } },
		plugins: { legend: { display: false }, tooltip: { enabled: false } },
		scales: {
			x: { type: "linear", min: xMin, max: xMax, offset: false, display: false },
			y: {
				position: "right",
				min: 83.498,
				max: 87.905,
				afterFit: (scale) => { scale.width = 76; trimAxis(scale); },
				afterBuildTicks: (scale) => { scale.ticks = priceTicks.map((v) => ({ value: v })); },
				grid: { drawOnChartArea: false, tickLength: 6, color: AXIS },
				border: { color: AXIS, width: 1 },
				ticks: {
					padding: 2,
					color: TEXT,
					font: { family: "Liberation Sans", size: 16 },
					callback: (v) => Number(v).toFixed(3),
				},
			},
		},
	},
	plugins: [zonePlugin, overlayPlugin],
});

// the stochastic canvas starts 20px above its pane so the 100 label is not cut
const stochOverlay = {
	id: "stochOverlay",
	beforeDatasetsDraw(chart) {
		const ctx = chart.ctx;
		ctx.save();
		ctx.translate(0, 20);
		ctx.textBaseline = "middle";
		ctx.textAlign = "left";
		ctx.font = '12px "Liberation Sans"';
		ctx.fillStyle = "#5f6368";
		ctx.fillText("Stoch", 4, 16);
		ctx.fillStyle = "#c2c6c9";
		ctx.beginPath();
		ctx.moveTo(37, 14);
		ctx.lineTo(45, 14);
		ctx.lineTo(41, 18);
		ctx.closePath();
		ctx.fill();
		[55, 72, 89, 106].forEach((x) => {
			ctx.fillStyle = "#c8cdd0";
			ctx.fillRect(x, 9, 14, 14);
		});
		// button glyphs: eye, gear, plus, cross
		ctx.strokeStyle = "#fff";
		ctx.lineWidth = 1.5;
		ctx.beginPath();
		ctx.arc(62, 16, 4, 0, Math.PI * 2);
		ctx.stroke();
		ctx.beginPath();
		ctx.arc(79, 16, 3.5, 0, Math.PI * 2);
		ctx.stroke();
		ctx.beginPath();
		ctx.moveTo(92, 16);
		ctx.lineTo(100, 16);
		ctx.moveTo(96, 12);
		ctx.lineTo(96, 20);
		ctx.moveTo(109, 12);
		ctx.lineTo(117, 20);
		ctx.moveTo(117, 12);
		ctx.lineTo(109, 20);
		ctx.stroke();
		ctx.fillStyle = "#1e9be8";
		ctx.font = '12px "Liberation Sans"';
		ctx.fillText("10.9013", 129, 16);
		ctx.fillText("9.0200", 179, 16);
		ctx.restore();
	},
	afterDatasetsDraw(chart) {
		const ctx = chart.ctx;
		ctx.save();
		ctx.translate(0, 20);
		ctx.fillStyle = "#3c78d8";
		ctx.fillRect(1701, 183, 30, 24);
		ctx.fillStyle = "#fff";
		ctx.font = '15px "Liberation Sans"';
		ctx.textAlign = "center";
		ctx.textBaseline = "middle";
		ctx.fillText("%D", 1716, 196);
		// last value badge, cut off by the time axis
		ctx.beginPath();
		ctx.rect(1733, 207, 62, 10);
		ctx.clip();
		ctx.fillStyle = GREEN;
		ctx.fillRect(1733, 207, 62, 10);
		ctx.fillStyle = "#fff";
		ctx.font = '16px "Liberation Sans"';
		ctx.textAlign = "left";
		ctx.fillText("3.4938", 1741, 219);
		ctx.restore();
	},
};

new Chart(document.getElementById("stochChart"), {
	type: "line",
	data: {
		datasets: [
			{
				data: stochBars.map((b, i) => ({ x: b, y: stochValues[i] })),
				borderColor: "#3c78d8",
				borderWidth: 3,
				pointRadius: 0,
				tension: 0.1,
				order: 2,
			},
			levelLine(xMin, xMax, stochLevel, GREEN, 2),
		],
	},
	options: {
		responsive: false,
		animation: false,
		events: [],
		layout: { padding: { top: 20, bottom: 0, left: 0, right: 0 } },
		plugins: { legend: { display: false }, tooltip: { enabled: false } },
		scales: {
			x: {
				type: "linear",
				min: xMin,
				max: xMax,
				afterFit: (scale) => { scale.height = 32; trimAxis(scale); },
				afterBuildTicks: (scale) => { scale.ticks = timeTickBars.map((v) => ({ value: v })); },
				grid: { drawOnChartArea: false, tickLength: 5, color: AXIS },
				border: { color: AXIS, width: 1 },
				ticks: {
					autoSkip: false,
					maxRotation: 0,
					padding: 4,
					color: TEXT,
					font: (c) => ({
						family: "Liberation Sans",
						size: 16,
						weight: c.tick && monthLabels.includes(timeTickLabels[timeTickBars.indexOf(c.tick.value)]) ? "bold" : "normal",
					}),
					callback: (v) => timeTickLabels[timeTickBars.indexOf(v)],
				},
			},
			y: {
				position: "right",
				min: -1.43,
				max: 101.9,
				afterFit: (scale) => { scale.width = 76; trimAxis(scale); },
				afterBuildTicks: (scale) => { scale.ticks = stochTicks.map((v) => ({ value: v })); },
				grid: { drawOnChartArea: false, tickLength: 6, color: AXIS },
				border: { color: AXIS, width: 1 },
				ticks: {
					padding: 2,
					color: TEXT,
					font: { family: "Liberation Sans", size: 16 },
					callback: (v) => Number(v).toFixed(4),
				},
			},
		},
	},
	plugins: [stochOverlay],
});
</script>
</body>
</html>
